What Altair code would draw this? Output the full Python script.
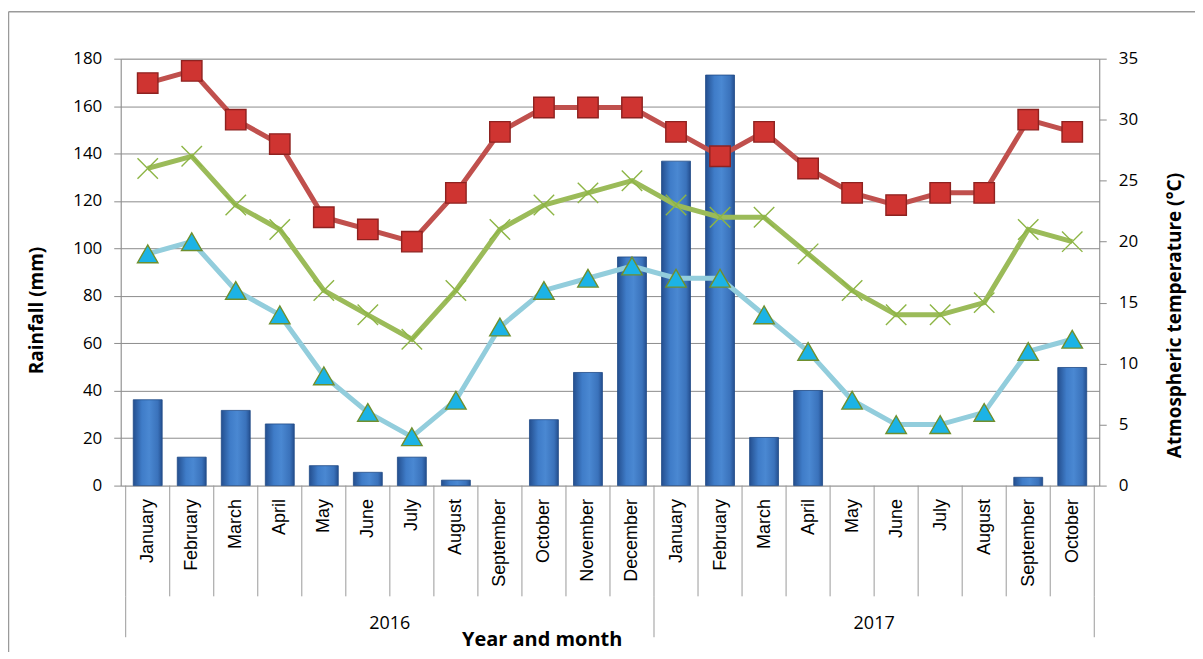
import json
import altair as alt
import pandas as pd

# ---------------- data ----------------
months_2016 = ["January", "February", "March", "April", "May", "June", "July",
               "August", "September", "October", "November", "December"]
months_2017 = ["January", "February", "March", "April", "May", "June", "July",
               "August", "September", "October"]
years = ["2016", "2017"]
month_labels = months_2016 + months_2017

rainfall = [36.2, 12.0, 31.7, 26.0, 8.4, 5.6, 12.0, 2.3, 0.0, 27.8, 47.7, 96.4,
            136.8, 173.1, 20.3, 40.1, 0.0, 0.0, 0.0, 0.0, 3.5, 49.8]
max_temp = [33, 34, 30, 28, 22, 21, 20, 24, 29, 31, 31, 31,
            29, 27, 29, 26, 24, 23, 24, 24, 30, 29]
mean_temp = [26, 27, 23, 21, 16, 14, 12, 16, 21, 23, 24, 25,
             23, 22, 22, 19, 16, 14, 14, 15, 21, 20]
min_temp = [19, 20, 16, 14, 9, 6, 4, 7, 13, 16, 17, 18,
            17, 17, 14, 11, 7, 5, 5, 6, 11, 12]
series_names = ["Maximum temperature", "Mean temperature", "Minimum temperature"]

# ---------------- tables ----------------
n = len(month_labels)
idx = list(range(n))
rain_df = pd.DataFrame({"idx": idx, "rain": rainfall})
temp_df = pd.DataFrame({
    "idx": idx * 3,
    "value": max_temp + mean_temp + min_temp,
    "series": [series_names[0]] * n + [series_names[1]] * n + [series_names[2]] * n,
})
sep_df = pd.DataFrame({"idx": [i - 0.5 for i in range(n + 1)]})
counts = [len(months_2016), len(months_2017)]
starts = [0, counts[0]]
year_df = pd.DataFrame({
    "idx": [s + (c - 1) / 2 for s, c in zip(starts, counts)],
    "year": years,
})
year_sep_df = pd.DataFrame({"idx": [-0.5, counts[0] - 0.5, n - 0.5]})
one = pd.DataFrame({"k": [0]})

W, H = 981, 428
GRID = "#8c8c8c"
label_expr = json.dumps(month_labels) + "[datum.value]"

x_enc = alt.X(
    "idx:Q",
    scale=alt.Scale(domain=[-0.5, n - 0.5], nice=False, zero=False),
    axis=alt.Axis(
        values=idx, labelExpr=label_expr, labelAngle=270, labelAlign="right",
        labelBaseline="middle", labelFont="Liberation Sans", labelFontSize=18,
        labelColor="#000000", labelPadding=13, ticks=False, tickSize=0,
        domain=False, grid=False, title="Year and month",
        titleFont="Open Sans", titleFontSize=20, titleFontWeight="bold",
        titleColor="#000000", titleX=422, titleY=160, titleAlign="center",
        titleBaseline="alphabetic", titleAngle=0, labelOverlap=False,
    ),
)

# ---------------- layers ----------------
frame_v = alt.Chart(one).mark_rule(color="#9a9a9a", strokeWidth=1.5).encode(
    x=alt.value(-112.5), y=alt.value(-47), y2=alt.value(H + 220))
frame_h = alt.Chart(one).mark_rule(color="#9a9a9a", strokeWidth=1.5).encode(
    x=alt.value(-112.5), x2=alt.value(W + 120), y=alt.value(-47))

bar_grad = alt.LinearGradient(
    gradient="linear", x1=0, x2=1, y1=0, y2=0,
    stops=[alt.GradientStop(color="#244f8f", offset=0),
           alt.GradientStop(color="#3f7cc8", offset=0.3),
           alt.GradientStop(color="#4a88d2", offset=0.55),
           alt.GradientStop(color="#3a72bb", offset=0.85),
           alt.GradientStop(color="#244f8f", offset=1)])

bars = alt.Chart(rain_df).transform_filter("datum.rain > 0").mark_bar(
    size=29, color=bar_grad, stroke="#1f4a86", strokeWidth=0.8).encode(
    x=x_enc,
    y=alt.Y("rain:Q",
            scale=alt.Scale(domain=[0, 180], nice=False),
            axis=alt.Axis(values=list(range(0, 181, 20)), grid=True,
                          gridColor=GRID, gridWidth=1, domainColor=GRID,
                          tickColor=GRID, tickSize=7, labelFont="Open Sans",
                          labelFontSize=17, labelColor="#000000", labelPadding=12,
                          title="Rainfall (mm)", titleFont="Open Sans",
                          titleFontSize=19, titleFontWeight="bold",
                          titleColor="#000000", titleX=-84, titleY=252,
                          titleAngle=270, titleAlign="center",
                          titleBaseline="middle")),
)

seps = alt.Chart(sep_df).mark_rule(color="#9a9a9a", strokeWidth=1).encode(
    x=x_enc, y=alt.value(H), y2=alt.value(H + 111))
year_seps = alt.Chart(year_sep_df).mark_rule(color="#9a9a9a", strokeWidth=1).encode(
    x=x_enc, y=alt.value(H + 111), y2=alt.value(H + 152))
year_text = alt.Chart(year_df).mark_text(font="Open Sans", fontSize=18,
                                          color="#000000", baseline="middle").encode(
    x=x_enc, y=alt.value(H + 139), text="year:N")

y_temp = alt.Y(
    "value:Q",
    scale=alt.Scale(domain=[0, 35], nice=False),
    axis=alt.Axis(orient="right", values=list(range(0, 36, 5)), grid=False,
                  domainColor=GRID, tickColor=GRID, tickSize=7,
                  labelFont="Open Sans", labelFontSize=17, labelColor="#000000",
                  labelPadding=12, title="Atmospheric temperature (°C)",
                  titleFont="Open Sans", titleFontSize=19, titleFontWeight="bold",
                  titleColor="#000000", titleX=75, titleY=257, titleAngle=270,
                  titleAlign="center", titleBaseline="middle"),
)

lines = alt.Chart(temp_df).mark_line(strokeWidth=5).encode(
    x=x_enc, y=y_temp,
    color=alt.Color("series:N", scale=alt.Scale(
        domain=series_names, range=["#c0504d", "#9bbb59", "#92cddc"]), legend=None),
)
points = alt.Chart(temp_df).mark_point(filled=True, size=420, strokeWidth=1.4,
                                       opacity=1).encode(
    x=x_enc, y=y_temp,
    shape=alt.Shape("series:N", scale=alt.Scale(
        domain=series_names,
        range=["square", "M-1,-1L1,1M1,-1L-1,1", "triangle-up"]), legend=None),
    fill=alt.Fill("series:N", scale=alt.Scale(
        domain=series_names, range=["#cf3431", "transparent", "#1cb3e6"]), legend=None),
    stroke=alt.Stroke("series:N", scale=alt.Scale(
        domain=series_names, range=["#8e2220", "#8db545", "#6f8f2e"]), legend=None),
)

temp = alt.layer(lines, points)

chart = alt.layer(frame_v, frame_h, bars, seps, year_seps, year_text, temp).resolve_scale(
    y="independent"
).properties(
    width=W, height=H,
    autosize=alt.AutoSizeParams(type="none"),
    padding={"left": 113, "top": 50, "right": 96, "bottom": 166},
).configure_view(stroke=None).configure(background="#ffffff")

chart.save("out.html", embed_options={"renderer": "svg", "actions": False})
